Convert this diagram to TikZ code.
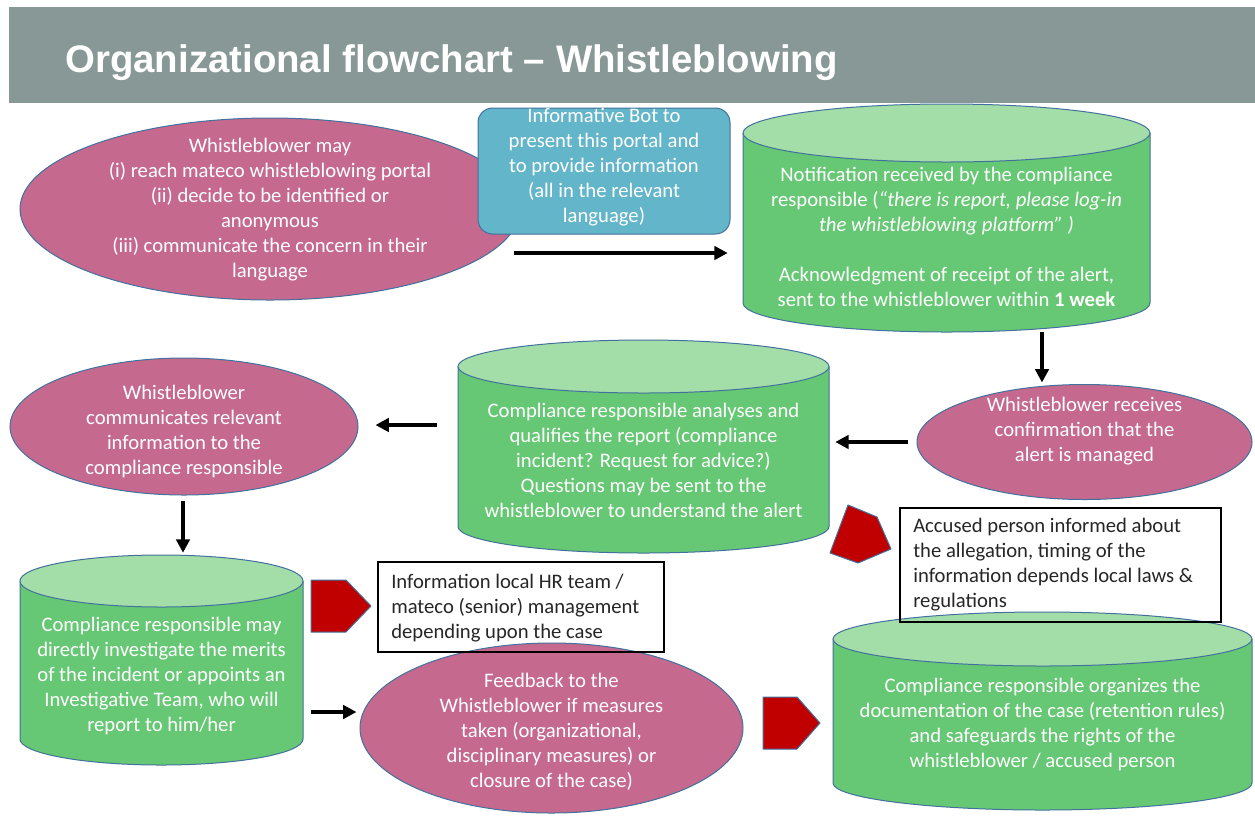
\documentclass[tikz,border=0pt]{standalone}
\usepackage{fontspec}
\setmainfont{Carlito}
\newfontfamily\titlefont{Liberation Sans}
\usetikzlibrary{shapes.geometric,arrows.meta,calc}
\definecolor{barc}{HTML}{879896}
\definecolor{pinkc}{HTML}{C5698F}
\definecolor{bluec}{HTML}{63B5C9}
\definecolor{greenc}{HTML}{66C874}
\definecolor{lgreenc}{HTML}{A3DDA8}
\definecolor{redc}{HTML}{C00000}
\definecolor{edgec}{HTML}{41719C}
\definecolor{txtc}{HTML}{262626}
\newcommand\mycyl[6]{%
  \pgfmathsetmacro\cylrx{(#2-#1)/2*0.75}%
  \pgfmathsetmacro\cylry{#5*0.75}%
  \pgfmathsetmacro\cylcx{(#1+#2)/2}%
  \pgfmathsetmacro\cylyt{#3+#5}%
  \pgfmathsetmacro\cylyb{#4-#5}%
  \fill[greenc] (#1,\cylyt) -- (#1,\cylyb) arc[start angle=180,end angle=360,x radius=\cylrx pt,y radius=\cylry pt] -- (#2,\cylyt) -- cycle;
  \draw[edgec,line width=0.75pt] (#1,\cylyt) -- (#1,\cylyb) arc[start angle=180,end angle=360,x radius=\cylrx pt,y radius=\cylry pt] -- (#2,\cylyt);
  \filldraw[fill=lgreenc,draw=edgec,line width=0.75pt] (\cylcx,\cylyt) ellipse [x radius=\cylrx pt,y radius=\cylry pt];
  \node[inner sep=0,minimum width={(#2-#1)*0.75pt},minimum height={(#4-#3)*0.75pt}] (#6) at (\cylcx,{(#3+#4)/2}) {};
}
\tikzset{
  pinkell/.style={ellipse,fill=pinkc,draw=edgec,line width=0.75pt,inner sep=0},
  bluebox/.style={rectangle,rounded corners=11pt,fill=bluec,draw=edgec,line width=0.75pt,inner sep=0},
  notebox/.style={rectangle,draw=black,line width=1.5pt,inner sep=0},
  wtext/.style={text=white,align=center,inner sep=0,font=\fontsize{15.5pt}{18.75pt}\selectfont},
  btext/.style={text=txtc,align=left,inner sep=0,anchor=west,font=\fontsize{15.5pt}{18.75pt}\selectfont},
  arr/.style={line width=3pt,-{Triangle[length=10pt,width=10pt]}},
  redpent/.style={fill=redc,draw=edgec,line width=0.75pt,line join=round}
}
\begin{document}
\begin{tikzpicture}[x=0.75pt,y=-0.75pt]
\useasboundingbox (0,0) rectangle (1255,815);
% title bar
\node[fill=barc,inner sep=0,minimum width=934.5pt,minimum height=72pt] (bar) at (632,55) {};
\node[anchor=base west,text=white,inner sep=0,font=\titlefont\bfseries\fontsize{28.8pt}{30pt}\selectfont] (title) at (65,72) {Organizational flowchart – Whistleblowing};
% row 1
\node[pinkell,minimum width=375pt,minimum height=136.5pt] (e1) at (270,209) {};
\node[wtext] (e1t) at (270,209.5) {Whistleblower may\\(i) reach mateco whistleblowing portal\\(ii) decide to be identified or\\anonymous\\(iii) communicate the concern in their\\language};
\node[bluebox,minimum width=189pt,minimum height=94.5pt] (bot) at (604,171) {};
\node[wtext] (bott) at (604,167) {Informative Bot to\\present this portal and\\to provide information\\(all in the relevant\\language)};
\mycyl{743}{1150}{104}{332}{29}{c1}
\node[wtext] (c1t) at (946.5,236.5) {Notification received by the compliance\\responsible (\textit{“there is report, please log-in}\\\textit{the whistleblowing platform” )}\\[18.75pt]Acknowledgment of receipt of the alert,\\sent to the whistleblower within \textbf{1 week}};
% row 2
\node[pinkell,minimum width=251.25pt,minimum height=86.25pt] (e2) at (1084.5,442) {};
\node[wtext] (e2t) at (1084.5,431) {Whistleblower receives\\confirmation that the\\alert is managed};
\mycyl{458}{829}{340}{553}{26.5}{c2}
\node[wtext] (c2t) at (643.5,460.5) {Compliance responsible analyses and\\qualifies the report (compliance\\incident? Request for advice?)\\Questions may be sent to the\\whistleblower to understand the alert};
\node[pinkell,minimum width=261pt,minimum height=102.75pt] (e3) at (184,426.5) {};
\node[wtext] (e3t) at (184,431.5) {Whistleblower\\communicates relevant\\information to the\\compliance responsible};
% row 3
\mycyl{20}{303}{555}{765}{26}{c3}
\node[wtext] (c3t) at (161.5,676) {Compliance responsible may\\directly investigate the merits\\of the incident or appoints an\\Investigative Team, who will\\report to him/her};
\draw[redpent] (311,580) -- (346,580) -- (371,606) -- (346,632) -- (311,632) -- cycle;
\node[pinkell,minimum width=287.25pt,minimum height=127.5pt] (e4) at (551.5,728) {};
\node[wtext] (e4t) at (551.5,732) {Feedback to the\\Whistleblower if measures\\taken (organizational,\\disciplinary measures) or\\closure of the case)};
\node[notebox,minimum width=214.5pt,minimum height=67.5pt] (b1) at (521,607) {};
\node[btext] (b1t) at (391,608) {Information local HR team /\\mateco (senior) management\\depending upon the case};
\draw[redpent] (763,697) -- (797,697) -- (820,723) -- (797,749) -- (763,749) -- cycle;
\mycyl{833}{1252}{612}{810}{27}{c4}
\node[wtext] (c4t) at (1042.5,724.5) {Compliance responsible organizes the\\documentation of the case (retention rules)\\and safeguards the rights of the\\whistleblower / accused person};
\node[notebox,minimum width=240.75pt,minimum height=85.5pt] (b2) at (1060.5,565) {};
\node[btext] (b2t) at (913,565) {Accused person informed about\\the allegation, timing of the\\information depends local laws \&\\regulations};
\draw[redpent] (848,505) -- (877,517) -- (891,549) -- (858,563) -- (830,553) -- cycle;
% arrows
\draw[arr] ($(e1.east)+(-7,44)$) -- ($(c1.west)+(-15,35)$);
\draw[arr] ($(c1.south)+(95.5,0)$) -- ($(e2.north)+(-42.5,-1.5)$);
\draw[arr] ($(e2.west)+(-9,0)$) -- ($(c2.east)+(6,-4.5)$);
\draw[arr] ($(c2.west)+(-21,-21.5)$) -- ($(e3.east)+(17,-1.5)$);
\draw[arr] ($(e3.south)+(-1,5)$) -- ($(c3.north)+(21.5,-2)$);
\draw[arr] ($(c3.east)+(8,52)$) -- ($(e4.west)+(-3,-16)$);
\end{tikzpicture}
\end{document}
